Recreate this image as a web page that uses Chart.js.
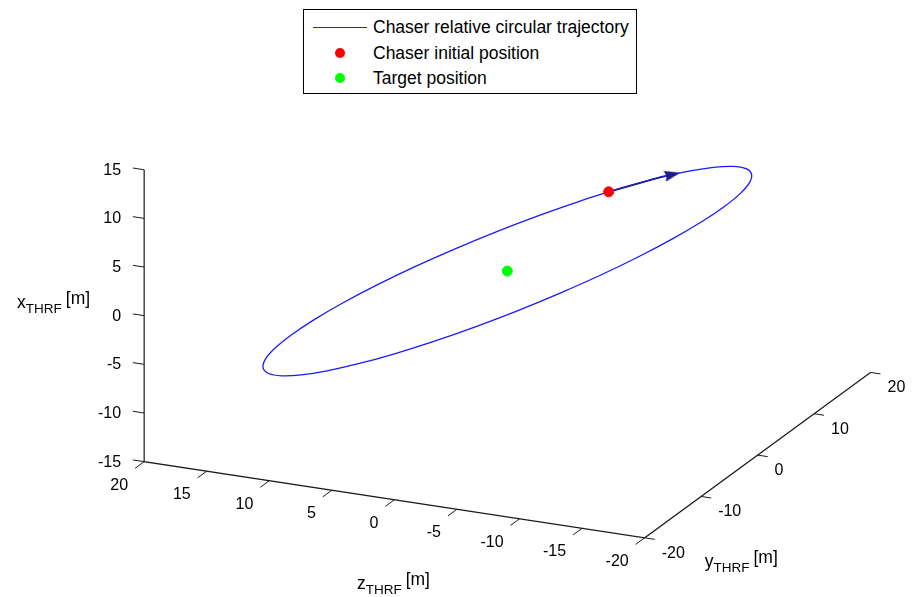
<!DOCTYPE html>
<html>
<head>
<meta charset="utf-8">
<script src="https://cdn.jsdelivr.net/npm/chart.js@4.4.0/dist/chart.umd.min.js"></script>
<style>
  html, body { margin: 0; padding: 0; background: #fff; }
  #wrap { position: relative; width: 914px; height: 597px; overflow: hidden;
          font-family: "Liberation Sans", Arial, sans-serif; color: #000; }
  #chart { position: absolute; left: 0; top: 0; }
  .lbl { position: absolute; white-space: nowrap; font-size: 16px; line-height: 16px; }
  .title { position: absolute; white-space: nowrap; font-size: 17.5px; line-height: 17px; }
  .title sub { font-size: 13.5px; vertical-align: -5px; line-height: 0; }
  .title .u { position: relative; top: -4px; margin-left: 4px; }
  #legend { position: absolute; left: 303px; top: 9px; width: 332px; height: 83px;
            border: 1px solid #000; background: #fff; font-size: 17.5px; }
  .row { position: absolute; left: 0; height: 20px; width: 100%; }
  .row .txt { position: absolute; left: 69px; top: 0; line-height: 20px; white-space: nowrap; }
  .row .ln { position: absolute; left: 9px; top: 10px; width: 54px; height: 0; border-top: 1px solid #1f1fff; }
  .row .dot { position: absolute; left: 31px; top: 5px; width: 10px; height: 10px; border-radius: 50%; }
</style>
</head>
<body>
<div id="wrap">
  <canvas id="chart" width="914" height="597"></canvas>
  <div id="legend"></div>
</div>
<script>
// Trajectoire relative circulaire du chaser (repere THRF, en m), un point tous les 10 deg
const trajX = [0, 1.74, 3.42, 5.00, 6.43, 7.66, 8.66, 9.40, 9.85, 10, 9.85, 9.40, 8.66, 7.66, 6.43, 5.00, 3.42, 1.74,
               0, -1.74, -3.42, -5.00, -6.43, -7.66, -8.66, -9.40, -9.85, -10, -9.85, -9.40, -8.66, -7.66, -6.43, -5.00, -3.42, -1.74, 0];
const trajY = [20, 19.70, 18.79, 17.32, 15.32, 12.86, 10.00, 6.84, 3.47, 0, -3.47, -6.84, -10.00, -12.86, -15.32, -17.32, -18.79, -19.70,
               -20, -19.70, -18.79, -17.32, -15.32, -12.86, -10.00, -6.84, -3.47, 0, 3.47, 6.84, 10.00, 12.86, 15.32, 17.32, 18.79, 19.70, 20];
const trajZ = [0, -3.01, -5.92, -8.66, -11.13, -13.27, -15.00, -16.28, -17.06, -17.32, -17.06, -16.28, -15.00, -13.27, -11.13, -8.66, -5.92, -3.01,
               0, 3.01, 5.92, 8.66, 11.13, 13.27, 15.00, 16.28, 17.06, 17.32, 17.06, 16.28, 15.00, 13.27, 11.13, 8.66, 5.92, 3.01, 0];

// positions [x, y, z]
const chaserPos = [-0.52, 19.97, 0.91];
const targetPos = [0, 0, 0];
const arrowPos = [2.59, 19.32, -4.48];

// axes
const xTicks = [-15, -10, -5, 0, 5, 10, 15];
const yTicks = [-20, -10, 0, 10, 20];
const zTicks = [20, 15, 10, 5, 0, -5, -10, -15, -20];
const legendLabels = ['Chaser relative circular trajectory', 'Chaser initial position', 'Target position'];

// vue 3D (projection orthographique, comme la vue matlab)
const view = { ox: 140, oy: 465, zx: 12.68, zy: 1.943, yx: 5.72, yy: 4.22, xy: 9.93 };
function project(x, y, z) {
    return {
        x: view.ox + (20 - z) * view.zx + (y + 20) * view.yx,
        y: view.oy + (20 - z) * view.zy - (y + 20) * view.yy - (x + 15) * view.xy
    };
}
const P = p => project(p[0], p[1], p[2]);

// segments des axes et des graduations (null = coupure)
const axisPts = [
    project(15, -20, 20), project(-15, -20, 20), project(-15, -20, -20), project(-15, 20, -20)
];
const tickPts = [];
xTicks.forEach(v => { tickPts.push(project(v, -20, 20), project(v, -20, 20.9), { x: null, y: null }); });
zTicks.forEach(v => { tickPts.push(project(-15, -20, v), project(-15, -21.6, v), { x: null, y: null }); });
yTicks.forEach(v => { tickPts.push(project(-15, v, -20), project(-15, v, -20.8), { x: null, y: null }); });

const trajPts = trajX.map((x, i) => project(x, trajY[i], trajZ[i]));
const shaftPts = [P(chaserPos), trajPts[1], P(arrowPos)];

// tete de fleche
const a0 = trajPts[1], a1 = trajPts[2];
const arrowAngle = Math.atan2(a1.y - a0.y, a1.x - a0.x) * 180 / Math.PI;
const arrowImg = document.createElement('canvas');
arrowImg.width = 16; arrowImg.height = 12;
(function () {
    const c = arrowImg.getContext('2d');
    c.fillStyle = '#1a1a8c';
    c.beginPath(); c.moveTo(0, 0.5); c.lineTo(16, 6); c.lineTo(0, 11.5); c.lineTo(2, 6); c.closePath(); c.fill();
})();

function addLabel(text, left, top, cls, align) {
    const d = document.createElement('div');
    d.className = cls;
    d.innerHTML = text;
    d.style.left = left + 'px';
    d.style.top = top + 'px';
    d.style.transform = align === 'right' ? 'translate(-100%, -50%)' : align === 'center' ? 'translate(-50%, -50%)' : 'translate(0, -50%)';
    document.getElementById('wrap').appendChild(d);
}

const labelsPlugin = {
    id: 'labels3d',
    afterDraw(chart) {
        if (chart._labelsDone) return;
        chart._labelsDone = true;
        const sx = chart.scales.x, sy = chart.scales.y;
        const px = p => ({ x: sx.getPixelForValue(p.x), y: sy.getPixelForValue(p.y) });
        xTicks.forEach(v => { const p = px(project(v, -20, 20)); addLabel(v, p.x - 23, p.y, 'lbl', 'right'); });
        zTicks.forEach(v => { const p = px(project(-15, -20, v)); addLabel(v, p.x - 16, p.y + 23, 'lbl', 'right'); });
        yTicks.forEach(v => { const p = px(project(-15, v, -20)); addLabel(v, p.x + 17, p.y + 15, 'lbl', 'left'); });
        const q0 = px(project(0, -20, 20));
        addLabel('x<sub>THRF</sub><span class="u">[m]</span>', q0.x - 54, q0.y - 14, 'title', 'right');
        const q1 = px(project(-15, -20, 0));
        addLabel('z<sub>THRF</sub><span class="u">[m]</span>', q1.x - 1, q1.y + 83, 'title', 'center');
        const q2 = px(project(-15, -20, -20));
        addLabel('y<sub>THRF</sub><span class="u">[m]</span>', q2.x + 60, q2.y + 23, 'title', 'left');
    }
};

// legende
const legend = document.getElementById('legend');
const swatches = ['<span class="ln"></span>', '<span class="dot" style="background:#ff0000"></span>', '<span class="dot" style="background:#00ff00"></span>'];
const rowTops = [7, 33, 58];
legendLabels.forEach((t, i) => {
    const r = document.createElement('div');
    r.className = 'row';
    r.style.top = rowTops[i] + 'px';
    r.innerHTML = swatches[i] + '<span class="txt">' + t + '</span>';
    legend.appendChild(r);
});

const ctx = document.getElementById('chart').getContext('2d');
const chart = new Chart(ctx, {
    type: 'scatter',
    data: {
        datasets: [
            { label: legendLabels[1], data: [P(chaserPos)], backgroundColor: '#ff0000', borderColor: '#ff0000',
              pointRadius: 5, pointHoverRadius: 5, order: 0 },
            { label: legendLabels[2], data: [P(targetPos)], backgroundColor: '#00ff00', borderColor: '#00ff00',
              pointRadius: 5, pointHoverRadius: 5, order: 0 },
            { label: 'arrow', data: [P(arrowPos)], pointStyle: arrowImg, rotation: arrowAngle, order: 1 },
            { label: 'shaft', data: shaftPts, showLine: true, borderColor: '#1f1f99', borderWidth: 1.8,
              pointRadius: 0, tension: 0.3, order: 2 },
            { label: legendLabels[0], data: trajPts, showLine: true, borderColor: '#1a1aff', borderWidth: 1.3,
              pointRadius: 0, tension: 0.3, order: 3 },
            { label: 'axes', data: axisPts, showLine: true, borderColor: '#1a1a1a', borderWidth: 1.2,
              pointRadius: 0, order: 4 },
            { label: 'ticks', data: tickPts, showLine: true, borderColor: '#1a1a1a', borderWidth: 1,
              pointRadius: 0, spanGaps: false, order: 4 }
        ]
    },
    options: {
        responsive: false,
        animation: false,
        events: [],
        layout: { padding: 0 },
        scales: {
            x: { type: 'linear', min: 0, max: 914, display: false },
            y: { type: 'linear', min: 0, max: 597, reverse: true, display: false }
        },
        plugins: {
            legend: { display: false },
            tooltip: { enabled: false }
        }
    },
    plugins: [labelsPlugin]
});
</script>
</body>
</html>
